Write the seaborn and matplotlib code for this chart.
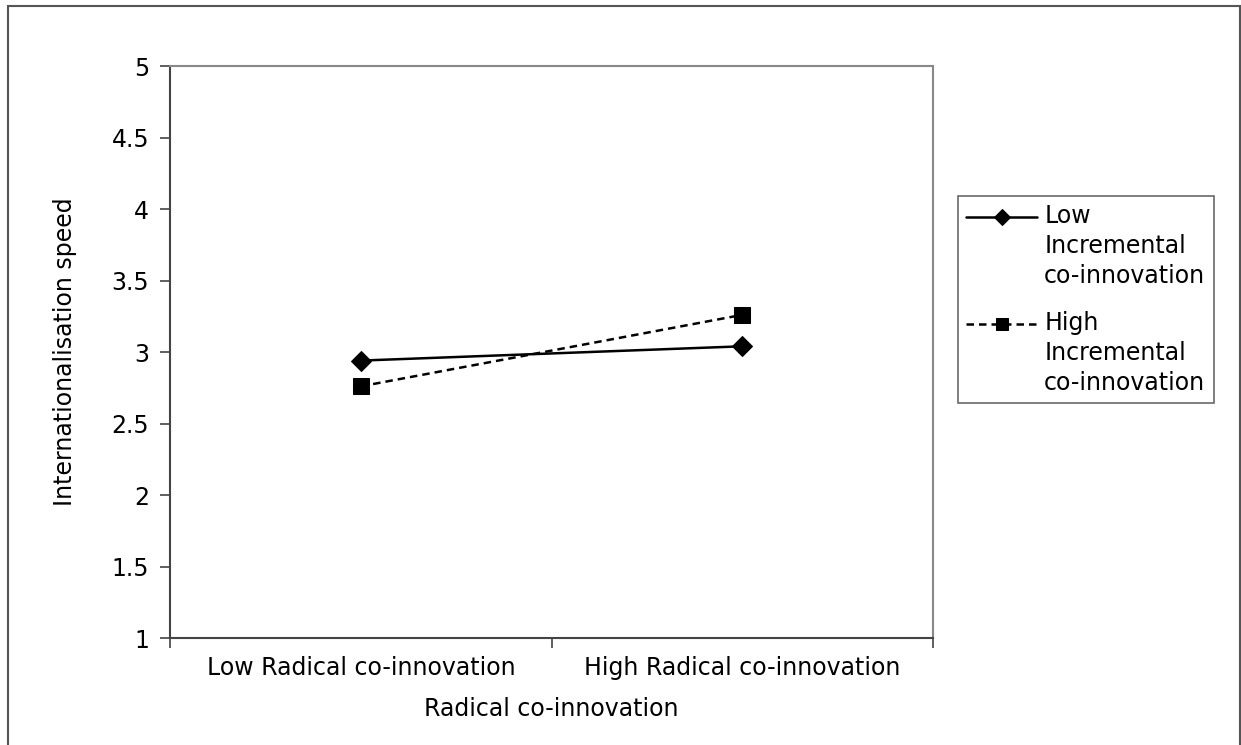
import matplotlib
matplotlib.use("Agg")
import matplotlib.pyplot as plt
import seaborn as sns
import pandas as pd
from matplotlib.patches import Rectangle
from matplotlib.legend_handler import HandlerLine2D

categories = ["Low Radical co-innovation", "High Radical co-innovation"]
series_names = ["Low\nIncremental\nco-innovation", "High\nIncremental\nco-innovation"]
low_incremental = [2.94, 3.04]
high_incremental = [2.76, 3.26]
yticks = [1, 1.5, 2, 2.5, 3, 3.5, 4, 4.5, 5]
ytick_labels = ["1", "1.5", "2", "2.5", "3", "3.5", "4", "4.5", "5"]

sns.set_style("white")
plt.rcParams['font.family'] = ['DejaVu Sans']
plt.rcParams['text.color'] = 'black'
plt.rcParams['xtick.color'] = 'black'
plt.rcParams['ytick.color'] = 'black'
plt.rcParams['axes.labelcolor'] = 'black'

FS = 17
LINE_STEP_PT = 30 * 72 / 100  # one text line in points


class FirstLineHandler(HandlerLine2D):
    def create_artists(self, legend, orig_handle, xdescent, ydescent,
                       width, height, fontsize, trans):
        arts = super().create_artists(legend, orig_handle, xdescent, ydescent,
                                      width, height, fontsize, trans)
        for a in arts:
            a.set_ydata([y + LINE_STEP_PT for y in a.get_ydata()])
        return arts


df = pd.DataFrame({
    "x": list(range(len(categories))) * 2,
    "y": low_incremental + high_incremental,
    "series": [series_names[0]] * 2 + [series_names[1]] * 2,
})

fig = plt.figure(figsize=(12.41, 7.45), dpi=100)
ax = fig.add_axes([0.137, 0.1436, 0.615, 0.7678])

styles = {series_names[0]: dict(ls="-", marker="D", ms=10),
          series_names[1]: dict(ls=(0, (3, 2)), marker="s", ms=11)}
for name in series_names:
    sub = df[df.series == name]
    sns.lineplot(data=sub, x="x", y="y", ax=ax, color="black", lw=1.8,
                 linestyle=styles[name]["ls"], marker=styles[name]["marker"],
                 markersize=styles[name]["ms"], markeredgecolor="black",
                 label=name, legend=False)

ax.set_xlim(-0.5, 1.5)
ax.set_ylim(1, 5)
ax.set_yticks(yticks)
ax.set_yticklabels(ytick_labels, fontsize=FS)
ax.set_xticks(range(len(categories)))
ax.set_xticklabels(categories, fontsize=FS)
ax.set_xticks([-0.5, 0.5, 1.5], minor=True)
ax.tick_params(axis="x", which="major", length=0, pad=13)
ax.tick_params(axis="x", which="minor", length=7, width=1.2, color="#444444", direction="out", bottom=True)
ax.tick_params(axis="y", length=7, width=1.2, color="#444444", direction="out", left=True, pad=8)
ax.set_xlabel("Radical co-innovation", fontsize=FS, labelpad=12)
ax.set_ylabel("Internationalisation speed", fontsize=FS, labelpad=25)

for s in ["left", "bottom"]:
    ax.spines[s].set_color("#444444")
    ax.spines[s].set_linewidth(1.5)
for s in ["top", "right"]:
    ax.spines[s].set_color("#888888")
    ax.spines[s].set_linewidth(1.5)

lines = ax.get_lines()
leg = fig.legend(handles=lines, labels=series_names, loc="upper left",
                 bbox_to_anchor=(958 / 1241, 1 - 196 / 745), fontsize=FS,
                 frameon=True, fancybox=False, handlelength=3.0, borderpad=0.35,
                 labelspacing=1.0, handletextpad=0.3, borderaxespad=0, markerscale=0.8,
                 handler_map={l: FirstLineHandler() for l in lines})
for t in leg.get_texts():
    t.set_linespacing(1.3)
leg.get_frame().set_edgecolor("#444444")
leg.get_frame().set_linewidth(1.2)

fig.patches.append(Rectangle((8 / 1241, -0.01), 1 - 1 / 1241 - 8 / 1241, 1 - 6 / 745 + 0.01,
                             transform=fig.transFigure, fill=False,
                             edgecolor="#555555", lw=1.5))

fig.savefig("out.png", dpi=100)
